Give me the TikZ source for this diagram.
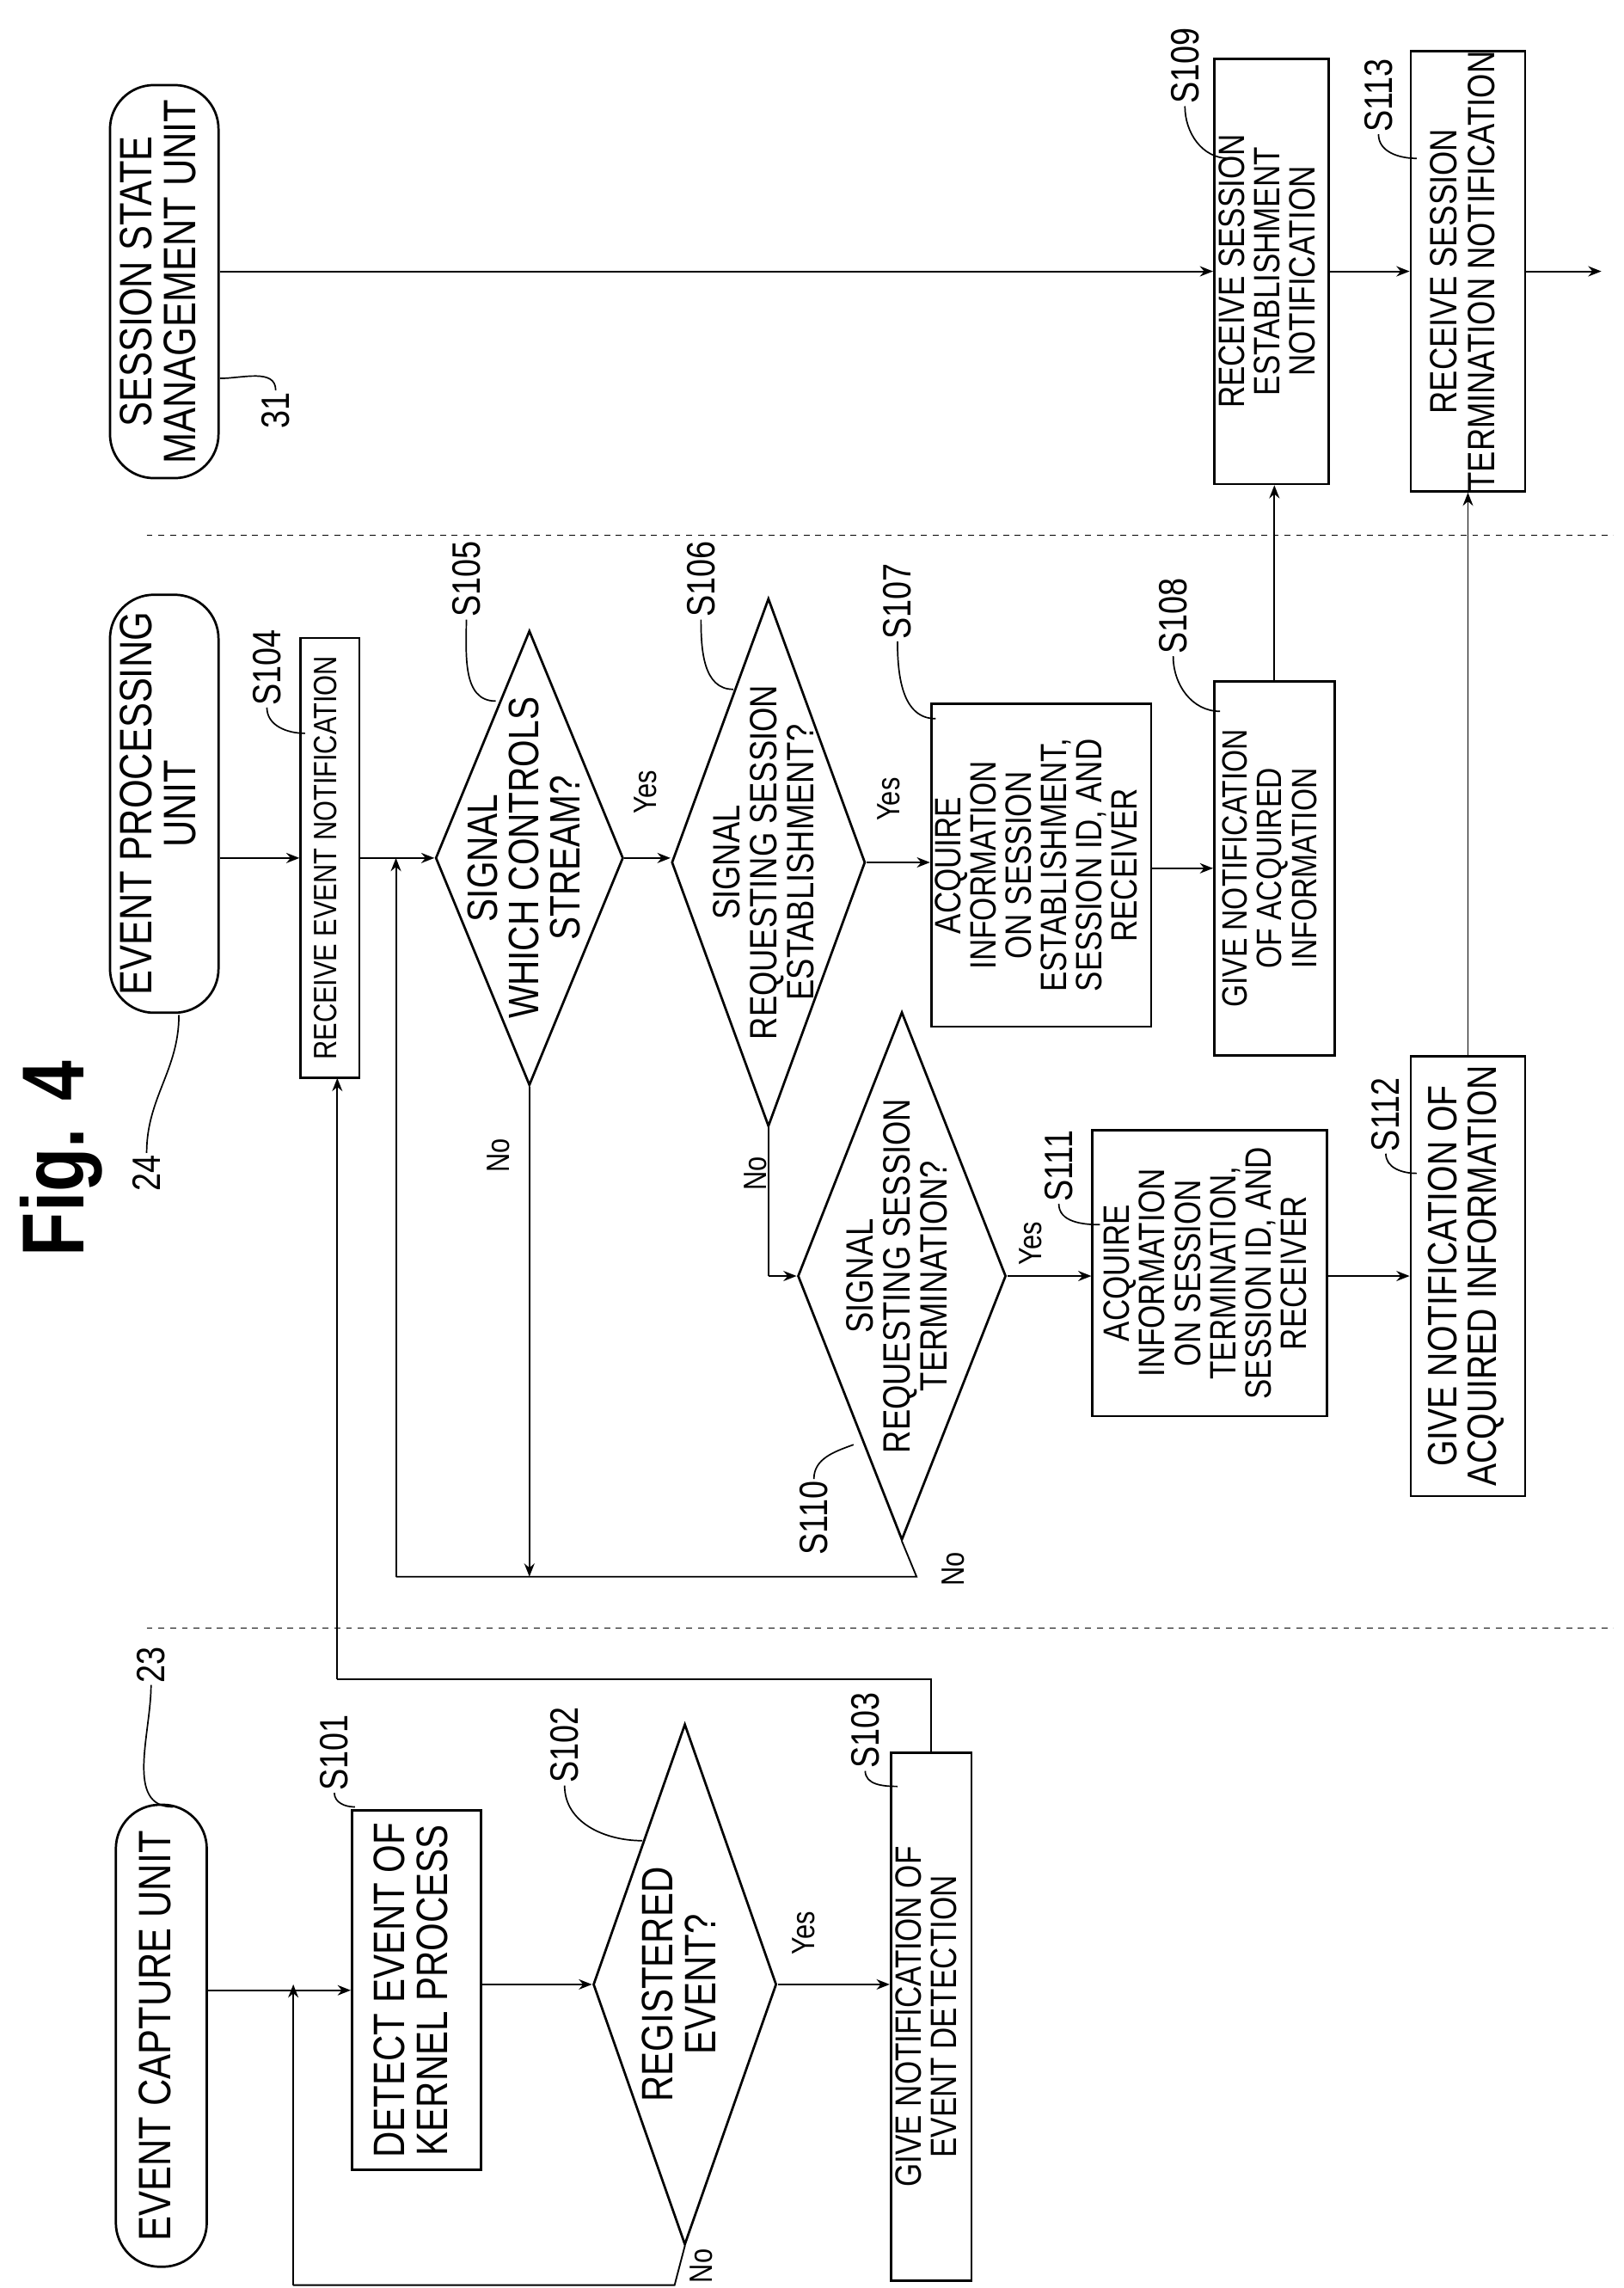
\documentclass[tikz,border=0pt]{standalone}
\usepackage{fontspec}
\setmainfont{Liberation Sans}[FakeStretch=0.82]
\usetikzlibrary{shapes.geometric,arrows.meta}
\newcommand{\rt}[1]{\rotatebox{90}{\begin{tabular}{@{}c@{}}#1\end{tabular}}}
\begin{document}
\begin{tikzpicture}[x=1pt,y=-1pt,
 line width=1.1pt,
 arr/.style={-{Stealth[length=9pt,width=7pt]}},
 term/.style={draw,line width=1.6pt,rounded corners=30pt,inner sep=0pt,font=\fontsize{31}{29}\selectfont},
 box/.style={draw,line width=1.6pt,inner sep=0pt,font=\fontsize{28}{26}\selectfont},
 sbox/.style={draw,line width=1.6pt,inner sep=0pt,font=\fontsize{22}{21}\selectfont},
 dia/.style={draw,diamond,line width=1.6pt,inner sep=0pt},
 dtxt/.style={font=\fontsize{29}{26}\selectfont,inner sep=0pt},
 lbl/.style={font=\fontsize{27}{27}\selectfont,inner sep=1pt},
 yn/.style={font=\fontsize{22}{22}\selectfont,inner sep=1pt},
 lead/.style={line width=1pt}]
\useasboundingbox (0,0) rectangle (1107,1560);
% title
\node[font=\bfseries\fontsize{60}{60}\selectfont] (title) at (42,790) {\rotatebox{90}{Fig. 4}};
% dashed separators
\coordinate (s1a) at (100,1110); \coordinate (s1b) at (1100,1110);
\coordinate (s2a) at (100,365); \coordinate (s2b) at (1100,365);
\draw[dashed,line width=1pt,dash pattern=on 4pt off 4pt] (s1a) -- (s1b);
\draw[dashed,line width=1pt,dash pattern=on 4pt off 4pt] (s2a) -- (s2b);
% terminators
\node[term,minimum width=62pt,minimum height=315pt] (ecu) at (110,1388) {\rt{EVENT CAPTURE UNIT}};
\node[term,minimum width=74pt,minimum height=285pt] (epu) at (112,548) {\rt{EVENT PROCESSING\\UNIT}};
\node[term,minimum width=74pt,minimum height=268pt] (ssm) at (112,192) {\rt{SESSION STATE\\MANAGEMENT UNIT}};
% event capture column
\node[box,font=\fontsize{30}{28}\selectfont,minimum width=88pt,minimum height=245pt] (b101) at (284,1357) {\rt{DETECT EVENT OF\\KERNEL PROCESS}};
\node[dia,minimum width=125pt,minimum height=355pt] (d102) at (467,1353) {};
\node[dtxt,font=\fontsize{30}{28}\selectfont] (t102) at (467,1353) {\rt{REGISTERED\\EVENT?}};
\node[sbox,font=\fontsize{25}{22}\selectfont,minimum width=55pt,minimum height=360pt] (b103) at (635,1375) {\rt{GIVE NOTIFICATION OF\\EVENT DETECTION}};
% event processing column
\node[sbox,minimum width=40pt,minimum height=300pt] (b104) at (225,585) {\rt{RECEIVE EVENT NOTIFICATION}};
\node[dia,minimum width=128pt,minimum height=310pt] (d105) at (361,585) {};
\node[dtxt] (t105) at (361,585) {\rt{SIGNAL\\WHICH CONTROLS\\STREAM?}};
\node[dia,minimum width=132pt,minimum height=360pt] (d106) at (524,588) {};
\node[dtxt,font=\fontsize{26}{23}\selectfont] (t106) at (524,588) {\rt{SIGNAL\\REQUESTING SESSION\\ESTABLISHMENT?}};
\node[box,font=\fontsize{25}{22}\selectfont,minimum width=150pt,minimum height=220pt] (b107) at (710,590) {\rt{ACQUIRE\\INFORMATION\\ON SESSION\\ESTABLISHMENT,\\SESSION ID, AND\\RECEIVER}};
\node[sbox,font=\fontsize{24}{23}\selectfont,minimum width=82pt,minimum height=255pt] (b108) at (869,592) {\rt{GIVE NOTIFICATION\\OF ACQUIRED\\INFORMATION}};
\node[dia,minimum width=142pt,minimum height=360pt] (d110) at (615,870) {};
\node[dtxt,font=\fontsize{26}{23}\selectfont] (t110) at (615,870) {\rt{SIGNAL\\REQUESTING SESSION\\TERMINATION?}};
\node[box,font=\fontsize{25}{22}\selectfont,minimum width=160pt,minimum height=195pt] (b111) at (825,868) {\rt{ACQUIRE\\INFORMATION\\ON SESSION\\TERMINATION,\\SESSION ID, AND\\RECEIVER}};
\node[box,minimum width=78pt,minimum height=300pt] (b112) at (1001,870) {\rt{GIVE NOTIFICATION OF\\ACQUIRED INFORMATION}};
% session state column
\node[sbox,font=\fontsize{25}{22}\selectfont,minimum width=78pt,minimum height=290pt] (b109) at (867,185) {\rt{RECEIVE SESSION\\ESTABLISHMENT\\NOTIFICATION}};
\node[box,font=\fontsize{26}{26}\selectfont,minimum width=78pt,minimum height=290pt] (b113) at (1001,185) {\rt{RECEIVE SESSION\\TERMINATION NOTIFICATION}};
% coordinates
\coordinate (j1) at (200,1353);
\coordinate (c1) at (460,1558);
\coordinate (c2) at (200,1558);
\coordinate (c3) at (635,1145);
\coordinate (c4) at (230,1145);
\coordinate (b104s) at (230,735);
\coordinate (j2) at (270,585);
\coordinate (c5) at (270,1075);
\coordinate (c6) at (361,1075);
\coordinate (c7) at (625,1075);
\coordinate (c8) at (524,870);
\coordinate (end) at (1092,185);
% event capture flow
\draw[arr] (ecu.east |- b101) -- (b101.west);
\draw[arr] (b101.east |- d102) -- (d102.west);
\draw[arr] (d102.east) -- (b103.west |- d102);
\draw (d102.south) -- (c1) -- (c2);
\draw[arr] (c2) -- (j1);
\draw (b103.north) -- (c3) -- (c4);
\draw[arr] (c4) -- (b104s);
% event processing flow
\draw[arr] (epu.east |- b104) -- (b104.west);
\draw[arr] (b104.east) -- (d105.west);
\draw[arr] (d105.east) -- (d106.west |- d105);
\draw[arr] (d106.east) -- (b107.west |- d106);
\draw[arr] (b107.east |- b108) -- (b108.west);
\draw[arr] (b108.north) -- (b108.north |- b109.south);
\draw[arr] (d105.south) -- (c6);
\draw (d106.south) -- (c8);
\draw[arr] (c8) -- (d110.west);
\draw[arr] (d110.east) -- (b111.west |- d110);
\draw[arr] (b111.east |- b112) -- (b112.west);
\draw[arr] (b112.north) -- (b113.south);
\draw (d110.south) -- (c7) -- (c5);
\draw[arr] (c5) -- (j2);
% session state flow
\draw[arr] (ssm.east |- b109) -- (b109.west);
\draw[arr] (b109.east) -- (b113.west);
\draw[arr] (b113.east) -- (end);
% yes / no
\node[yn] (y102) at (548,1318) {\rotatebox{90}{Yes}};
\node[yn] (n102) at (478,1545) {\rotatebox{90}{No}};
\node[yn] (y105) at (440,540) {\rotatebox{90}{Yes}};
\node[yn] (n105) at (340,788) {\rotatebox{90}{No}};
\node[yn] (y106) at (606,545) {\rotatebox{90}{Yes}};
\node[yn] (n106) at (515,800) {\rotatebox{90}{No}};
\node[yn] (y110) at (703,848) {\rotatebox{90}{Yes}};
\node[yn] (n110) at (650,1070) {\rotatebox{90}{No}};
% step labels
\node[lbl] (l101) at (228,1195) {\rotatebox{90}{S101}};
\draw[lead] (l101.south) to[out=-90,in=180] (242,1232);
\node[lbl] (l102) at (385,1190) {\rotatebox{90}{S102}};
\draw[lead] (l102.south) to[out=-90,in=180] (438,1255);
\node[lbl] (l103) at (590,1180) {\rotatebox{90}{S103}};
\draw[lead] (l103.south) to[out=-90,in=180] (612,1218);
\node[lbl] (l104) at (182,455) {\rotatebox{90}{S104}};
\draw[lead] (l104.south) to[out=-90,in=180] (208,500);
\node[lbl] (l105) at (318,395) {\rotatebox{90}{S105}};
\draw[lead] (l105.south) to[out=-90,in=180] (338,478);
\node[lbl] (l106) at (478,395) {\rotatebox{90}{S106}};
\draw[lead] (l106.south) to[out=-90,in=180] (500,470);
\node[lbl] (l107) at (612,410) {\rotatebox{90}{S107}};
\draw[lead] (l107.south) to[out=-90,in=180] (638,490);
\node[lbl] (l108) at (800,420) {\rotatebox{90}{S108}};
\draw[lead] (l108.south) to[out=-90,in=180] (832,485);
\node[lbl] (l109) at (808,45) {\rotatebox{90}{S109}};
\draw[lead] (l109.south) to[out=-90,in=180] (838,108);
\node[lbl] (l113) at (940,65) {\rotatebox{90}{S113}};
\draw[lead] (l113.south) to[out=-90,in=180] (966,108);
\node[lbl] (l111) at (722,795) {\rotatebox{90}{S111}};
\draw[lead] (l111.south) to[out=-90,in=180] (750,835);
\node[lbl] (l112) at (945,760) {\rotatebox{90}{S112}};
\draw[lead] (l112.south) to[out=-90,in=180] (966,800);
\node[lbl] (l110) at (555,1035) {\rotatebox{90}{S110}};
\draw[lead] (l110.north) to[out=90,in=200] (582,985);
% reference numbers
\node[lbl] (r23) at (103,1135) {\rotatebox{90}{23}};
\draw[lead] (r23.south) to[out=-90,in=180] (118,1232);
\node[lbl] (r24) at (100,800) {\rotatebox{90}{24}};
\draw[lead] (r24.north) to[out=90,in=-90] (122,692);
\node[lbl] (r31) at (188,280) {\rotatebox{90}{31}};
\draw[lead] (r31.north) to[out=90,in=0] (150,258);
\end{tikzpicture}
\end{document}
